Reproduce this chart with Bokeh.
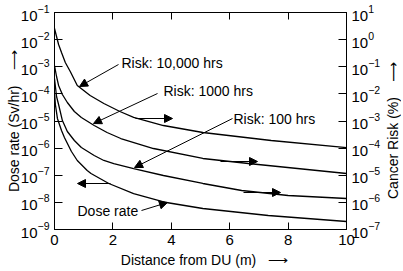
from bokeh.plotting import figure
from bokeh.layouts import row
from bokeh.models import (Range1d, LogAxis, LinearAxis, FixedTicker, LogScale,
                          Label, Arrow, NormalHead, CustomJSTickFormatter,
                          LogTickFormatter, Div)
from bokeh.embed import file_html
from bokeh.resources import INLINE

# ---- data ----
dist_r10000 = [0, 0.07, 0.14, 0.24, 0.37, 0.54, 0.78, 1.22, 1.69, 2.24, 2.71, 3.73, 5.08, 7.42, 10]
risk_10000 = [2.57, 1.30, 0.661, 0.335, 0.1435, 0.0668, 0.0204, 0.00871, 0.00442, 0.00224,
              0.00135, 6.82e-4, 3.77e-4, 1.91e-4, 1.05e-4]

dist_r1000 = [0, 0.07, 0.14, 0.27, 0.44, 0.68, 0.92, 1.36, 1.80, 2.27, 3.39, 5.08, 6.64, 10]
risk_1000 = [0.111, 0.0437, 0.0204, 0.00948, 0.00481, 0.00224, 0.00135, 6.82e-4, 3.77e-4,
             2.26e-4, 9.68e-5, 4.15e-5, 2.71e-5, 1.16e-5]

dist_r100 = [0, 0.07, 0.14, 0.27, 0.44, 0.68, 0.92, 1.36, 1.69, 2.03, 2.71, 3.73, 5.08, 6.41, 8.00, 10]
risk_100 = [0.0369, 0.00800, 0.00406, 0.00104, 4.10e-4, 1.91e-4, 1.05e-4, 5.35e-5, 3.50e-5,
            2.71e-5, 1.77e-5, 9.79e-6, 4.97e-6, 2.74e-6, 1.79e-6, 1.39e-6]

dist_dose = [0, 0.03, 0.10, 0.24, 0.34, 0.58, 0.78, 1.12, 1.25, 1.86, 2.71, 3.83, 5.08, 7.32, 10]
dose_rate = [1.12e-4, 4.06e-5, 1.24e-5, 4.47e-6, 2.47e-6, 7.51e-7, 3.50e-7, 1.50e-7, 1.16e-7,
             4.97e-8, 2.12e-8, 9.89e-9, 5.94e-9, 3.28e-9, 1.97e-9]

x_ticks = [0, 2, 4, 6, 8, 10]
dose_ticks = [1e-9, 1e-8, 1e-7, 1e-6, 1e-5, 1e-4, 1e-3, 1e-2, 1e-1]
risk_ticks = [1e-7, 1e-6, 1e-5, 1e-4, 1e-3, 1e-2, 1e-1, 1e0, 1e1]

FONT = "Liberation Sans"
NB = "\u00a0"

p = figure(width=383, height=271, output_backend="svg", toolbar_location=None,
           x_axis_type=None, y_axis_type=None,
           x_range=Range1d(0, 10), y_range=Range1d(1e-9, 1e-1),
           min_border_left=54, min_border_right=34, min_border_top=12, min_border_bottom=42,
           background_fill_color="white", border_fill_color="white", margin=0)
p.y_scale = LogScale()
p.extra_y_ranges = {"risk": Range1d(1e-7, 1e1)}
p.extra_y_scales = {"risk": LogScale()}
p.grid.visible = False
p.outline_line_color = "black"
p.outline_line_width = 1


def style(ax, tick_len):
    ax.axis_line_color = "black"
    ax.major_tick_line_color = "black"
    ax.major_tick_in = tick_len
    ax.major_tick_out = 0
    ax.minor_tick_line_color = None
    ax.major_label_text_font = FONT
    ax.major_label_text_font_size = "15px"
    ax.major_label_text_color = "black"
    ax.major_label_standoff = 5
    ax.axis_label_text_font = FONT
    ax.axis_label_text_font_size = "14px"
    ax.axis_label_text_font_style = "normal"
    ax.axis_label_text_color = "black"


bottom = LinearAxis(ticker=FixedTicker(ticks=x_ticks),
                    axis_label=NB * 2 + "Distance from DU (m)" + NB * 3 + "\u27f6")
style(bottom, 7)
bottom.axis_label_standoff = 4
p.add_layout(bottom, "below")

top = LinearAxis(ticker=FixedTicker(ticks=x_ticks),
                 formatter=CustomJSTickFormatter(code="return ''"))
style(top, 7)
top.major_label_text_font_size = "1px"
top.major_label_standoff = 0
p.add_layout(top, "above")

left = LogAxis(ticker=FixedTicker(ticks=dose_ticks), formatter=LogTickFormatter(),
               axis_label="Dose rate (Sv/hr)" + NB * 4 + "\u27f6")
style(left, 8)
left.axis_label_standoff = -4
p.add_layout(left, "left")

right = LogAxis(y_range_name="risk", ticker=FixedTicker(ticks=risk_ticks),
                formatter=LogTickFormatter())
style(right, 8)
p.add_layout(right, "right")

for xs, ys, rng in [(dist_r10000, risk_10000, "risk"), (dist_r1000, risk_1000, "risk"),
                    (dist_r100, risk_100, "risk"), (dist_dose, dose_rate, "default")]:
    p.line(xs, ys, y_range_name=rng, line_color="black", line_width=1.3)


def label(x, y, text):
    p.add_layout(Label(x=x, y=y, x_units="screen", y_units="screen", text=text,
                       text_align="left", text_baseline="middle",
                       text_font=FONT, text_font_size="14px", text_color="black"))


def arrow(x0, y0, x1, y1, size=8, width=1.0):
    p.add_layout(Arrow(x_start=x0, y_start=y0, x_end=x1, y_end=y1,
                       start_units="screen", end_units="screen",
                       line_color="black", line_width=width,
                       end=NormalHead(size=size, fill_color="black", line_color="black")))


# screen coordinates are relative to frame bottom-left (frame: 295 x 217)
label(67, 167, "Risk: 10,000 hrs")
arrow(64, 165, 25, 143)
label(109, 139, "Risk: 1000 hrs")
arrow(103, 136, 39, 106)
label(179, 111, "Risk: 100 hrs")
arrow(178, 111, 80, 62)
label(23, 19, "Dose rate")
arrow(87, 19, 113, 27)

arrow(81, 111, 118, 111)
arrow(166, 68, 203, 68)
arrow(189, 37, 226, 37)
arrow(56, 46, 23, 46)

# right-hand axis title, reading bottom to top like the reference
right_title = Div(
    text=('<div style="writing-mode: vertical-rl; transform: rotate(180deg); '
          'font-family: \'Liberation Sans\', sans-serif; font-size: 14px; color: black; '
          'white-space: nowrap; box-sizing: border-box; width: 20px; height: 271px; '
          'padding-top: 10px; display: flex; align-items: center; justify-content: center;">'
          'Cancer Risk (%)&nbsp;&nbsp;&nbsp;&nbsp;'
          '<span style="font-family: \'DejaVu Sans\';">&#x27F6;</span></div>'),
    width=20, height=271, margin=0)

layout = row(p, right_title, spacing=0)
open("out.html", "w").write(file_html(layout, INLINE))
